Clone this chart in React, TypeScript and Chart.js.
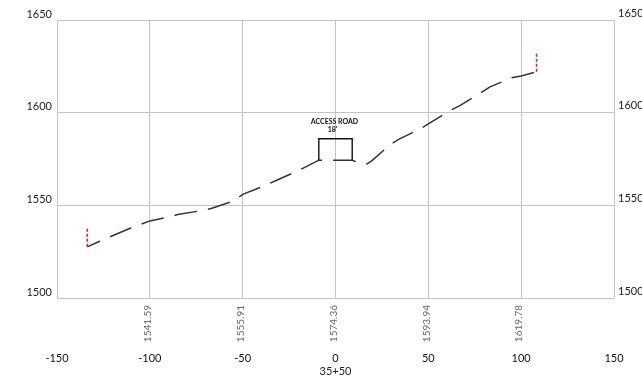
import React, { useEffect, useRef } from "react";
import { Chart, registerables } from "chart.js";

Chart.register(...registerables);

// Ground profile (offset ft, elevation ft)
const PROFILE_X = [-133.7, -127, -110, -100, -91, -85, -73, -67, -55, -50, -38, -32, -21, -15.5, -9, 9, 14, 16.5, 19.5, 29, 34, 45.5, 50, 61.6, 67, 77.8, 83.2, 94.9, 100, 108.3];
const PROFILE_Y = [1527.6, 1530.6, 1537.9, 1541.59, 1543.5, 1545.0, 1547.0, 1548.3, 1552.3, 1555.91, 1560.7, 1563.4, 1568.3, 1571.0, 1574.36, 1574.36, 1572.3, 1572.0, 1574.0, 1582.4, 1585.6, 1591.2, 1593.94, 1601.1, 1603.8, 1610.5, 1613.9, 1618.8, 1619.78, 1622.1];

// Red limit markers at the ends
const LEFT_LIMIT_X = [-133.7, -133.7];
const LEFT_LIMIT_Y = [1527.6, 1537.7];
const RIGHT_LIMIT_X = [108.3, 108.3];
const RIGHT_LIMIT_Y = [1622.1, 1632.3];

// Access road dimension bracket
const ROAD_X = [-9, -9, 9, 9];
const ROAD_Y = [1574.36, 1585.9, 1585.9, 1574.36];
const ROAD_LABEL = ["ACCESS ROAD", "18'"];

// Elevation labels under gridlines
const ELEV_STATIONS = [-100, -50, 0, 50, 100];
const ELEV_LABELS = ["1541.59", "1555.91", "1574.36", "1593.94", "1619.78"];

const X_MIN = -150;
const X_MAX = 150;
const X_STEP = 50;
const Y_MIN = 1500;
const Y_MAX = 1650;
const Y_STEP = 50;
const X_TITLE = "35+50";

const FONT = "Lato, 'Open Sans', sans-serif";
const GRID = "#c4c4c4";

const toPts = (xs: number[], ys: number[]) => xs.map((x, i) => ({ x, y: ys[i] }));

const roadLabelPlugin = {
  id: "roadLabel",
  afterDatasetsDraw(chart: any) {
    const { ctx, scales } = chart;
    const cx = scales.x.getPixelForValue((ROAD_X[0] + ROAD_X[ROAD_X.length - 1]) / 2);
    const topY = scales.y.getPixelForValue(Math.max(...ROAD_Y));
    ctx.save();
    ctx.fillStyle = "#111";
    ctx.textAlign = "center";
    ctx.textBaseline = "middle";
    ctx.font = `bold 7px ${FONT}`;
    ctx.fillText(ROAD_LABEL[0], cx - 1, topY - 17);
    ctx.fillText(ROAD_LABEL[1], cx - 3, topY - 9);
    ctx.restore();
  },
};

export default function App() {
  const ref = useRef<HTMLCanvasElement | null>(null);

  useEffect(() => {
    document.body.style.margin = "0";
    const canvas = ref.current;
    if (!canvas) return;
    const chart = new Chart(canvas, {
      type: "scatter",
      data: {
        datasets: [
          {
            data: toPts(LEFT_LIMIT_X, LEFT_LIMIT_Y),
            showLine: true,
            borderColor: "#d81f4a",
            borderWidth: 1.6,
            borderDash: [3, 2],
            pointRadius: 0,
          },
          {
            data: toPts(RIGHT_LIMIT_X, RIGHT_LIMIT_Y),
            showLine: true,
            borderColor: "#d81f4a",
            borderWidth: 1.6,
            borderDash: [3, 2],
            pointRadius: 0,
          },
          {
            data: toPts(ROAD_X, ROAD_Y),
            showLine: true,
            borderColor: "#111",
            borderWidth: 1.4,
            pointRadius: 0,
          },
          {
            data: toPts(PROFILE_X, PROFILE_Y),
            showLine: true,
            borderColor: "#333",
            borderWidth: 1.5,
            borderDash: [23, 11],
            borderDashOffset: 9,
            pointRadius: 0,
          },
        ],
      },
      options: {
        responsive: false,
        animation: false,
        layout: { padding: { top: 20, left: 0, right: 0, bottom: 0 } },
        plugins: { legend: { display: false }, tooltip: { enabled: false } },
        scales: {
          x: {
            type: "linear",
            position: "bottom",
            weight: 1,
            min: X_MIN,
            max: X_MAX,
            grid: { color: GRID, drawTicks: false, lineWidth: 1 },
            border: { display: false },
            ticks: {
              stepSize: X_STEP,
              padding: 6,
              color: "#111",
              font: { family: FONT, size: 11 },
              maxRotation: 0,
              callback: (v: any) => String(v),
            },
            title: {
              display: true,
              text: X_TITLE,
              color: "#222",
              font: { family: FONT, size: 11 },
              padding: { top: 0, bottom: 8 },
            },
            afterFit: (s: any) => {
              s.height = 40;
            },
          },
          xElev: {
            type: "linear",
            position: "bottom",
            weight: 0,
            min: X_MIN,
            max: X_MAX,
            grid: { display: false, drawTicks: false },
            border: { display: false },
            afterBuildTicks: (s: any) => {
              s.ticks = ELEV_STATIONS.map((v) => ({ value: v }));
            },
            ticks: {
              callback: (_v: any, i: number) => ELEV_LABELS[i],
              minRotation: 90,
              maxRotation: 90,
              padding: 7,
              labelOffset: -2,
              color: "#666",
              font: { family: FONT, size: 10 },
              autoSkip: false,
            },
            afterFit: (s: any) => {
              s.height = 48;
            },
          },
          y: {
            type: "linear",
            position: "left",
            min: Y_MIN,
            max: Y_MAX,
            grid: { color: GRID, drawTicks: false, lineWidth: 1 },
            border: { display: false },
            ticks: {
              stepSize: Y_STEP,
              padding: 5,
              labelOffset: -6,
              color: "#222",
              font: { family: FONT, size: 11 },
              callback: (v: any) => String(v),
            },
            afterFit: (s: any) => {
              s.width = 57;
            },
          },
          y2: {
            type: "linear",
            position: "right",
            min: Y_MIN,
            max: Y_MAX,
            grid: { display: false, drawTicks: false },
            border: { display: false },
            ticks: {
              stepSize: Y_STEP,
              padding: 4,
              labelOffset: -7,
              color: "#222",
              font: { family: FONT, size: 11 },
              callback: (v: any) => String(v),
            },
            afterFit: (s: any) => {
              s.width = 28;
            },
          },
        },
      },
      plugins: [roadLabelPlugin],
    } as any);
    return () => chart.destroy();
  }, []);

  return (
    <div style={{ width: 642, height: 386 }}>
      <canvas ref={ref} width={642} height={386} style={{ display: "block" }} />
    </div>
  );
}
